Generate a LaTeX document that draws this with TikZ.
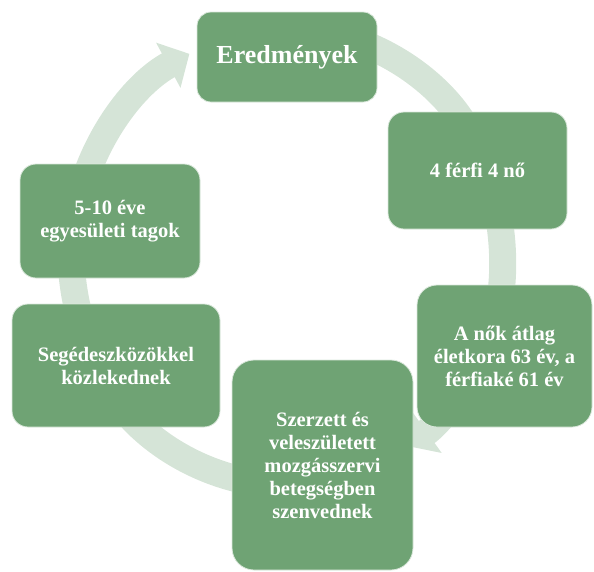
\documentclass[tikz,border=0pt]{standalone}
\usepackage{fontspec}
\setmainfont{Liberation Serif}
\usetikzlibrary{arrows.meta}
\definecolor{boxgreen}{RGB}{111,163,116}
\definecolor{ringgreen}{RGB}{213,228,215}

\begin{document}
\begin{tikzpicture}[x=1pt,y=1pt]
    \tikzstyle{stage}=[rectangle, rounded corners=16pt, fill=boxgreen, draw=white!75!boxgreen, line width=0.8pt, text=white, align=center, inner sep=0pt, font=\fontsize{20.5}{23}\selectfont\bfseries]
    \tikzstyle{ring}=[ringgreen, line width=27pt, -{Triangle[length=24pt,width=50pt]}]
    \useasboundingbox (0,0) rectangle (594,-571);
    \coordinate (ctr) at (287,-257);

    \draw[ring] ([shift={(165:215 and 228)}]ctr) arc[start angle=165, end angle=117, x radius=215, y radius=228];
    \draw[ring] ([shift={(80:215 and 228)}]ctr) arc[start angle=80, end angle=26, x radius=215, y radius=228];
    \draw[ring] ([shift={(15:215 and 228)}]ctr) arc[start angle=15, end angle=-20, x radius=215, y radius=228];
    \draw[ring] ([shift={(-25:215 and 228)}]ctr) arc[start angle=-25, end angle=-56, x radius=215, y radius=228];
    \draw[ring] ([shift={(-95:215 and 228)}]ctr) arc[start angle=-95, end angle=-150, x radius=215, y radius=228];
    \draw[ring] ([shift={(-160:215 and 228)}]ctr) arc[start angle=-160, end angle=-198, x radius=215, y radius=228];

    \node[stage, minimum width=180pt, minimum height=90pt, rounded corners=14pt, font=\fontsize{26}{30}\selectfont\bfseries] (result) at (287,-57) {Eredmények};
    \node[stage, minimum width=179pt, minimum height=117pt] (gender) at (477.5,-170.5) {4 férfi 4 nő};
    \node[stage, minimum width=175pt, minimum height=142pt, rounded corners=20pt] (age) at (504.5,-356) {A nők átlag\\életkora 63 év, a\\férfiaké 61 év};
    \node[stage, minimum width=181pt, minimum height=210pt, rounded corners=22pt] (illness) at (322.5,-465) {Szerzett és\\veleszületett\\mozgásszervi\\betegségben\\szenvednek};
    \node[stage, minimum width=208pt, minimum height=123pt] (aids) at (116,-365.5) {Segédeszközökkel\\közlekednek};
    \node[stage, minimum width=180pt, minimum height=114pt] (members) at (110,-221) {5-10 éve\\egyesületi tagok};
\end{tikzpicture}
\end{document}
